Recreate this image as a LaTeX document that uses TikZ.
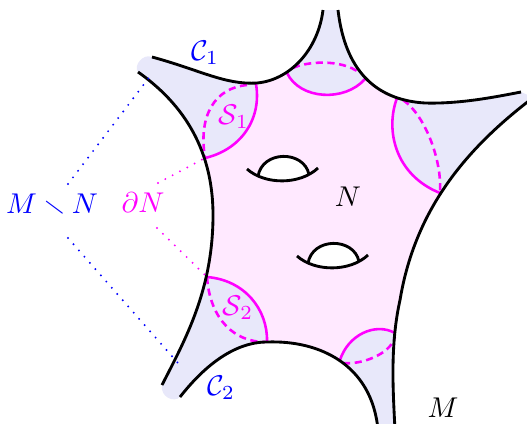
\documentclass[tikz,border=0pt]{standalone}
\usepackage{amsmath,amssymb}
\usetikzlibrary{calc}
\definecolor{SurfBlue}{RGB}{232,232,250}
\definecolor{InnerPink}{RGB}{255,233,255}
\definecolor{SphMagenta}{RGB}{255,0,255}

% outline of the surface piece (boundary curves joined by the end caps)
\newcommand{\surfoutline}{(152,57) .. controls (200,70) and (225,85) .. (257,83)
  .. controls (290,80) and (318,50) .. (323,10) -- (338,10)
  .. controls (345,70) and (375,100) .. (425,103)
  .. controls (460,104) and (495,97) .. (521,92) -- (530,96) -- (530,100)
  .. controls (465,150) and (415,210) .. (400,300)
  .. controls (390,345) and (393,390) .. (395,430) -- (378,430)
  .. controls (372,365) and (320,340) .. (267,342)
  .. controls (235,342) and (205,365) .. (180,397)
  .. controls (174,403) and (160,397) .. (162,385)
  .. controls (185,340) and (213,290) .. (213,215)
  .. controls (213,160) and (192,110) .. (138,72)
  .. controls (133,66) and (143,53) .. (152,57) -- cycle}

\begin{document}
\begin{tikzpicture}[x=0.35pt, y=-0.35pt,
    bdry/.style={black, line width=1pt},
    front/.style={SphMagenta, line width=0.9pt},
    back/.style={front, dash pattern=on 2.5pt off 1.6pt},
    bluedots/.style={blue, line width=0.75pt, line cap=round, dash pattern=on 0pt off 2.9pt},
    pinkdots/.style={bluedots, SphMagenta},
  ]
  \clip (0,0) rectangle (527,423);

  % points where the spheres meet the boundary
  \coordinate (s1a) at (256,84);
  \coordinate (s1b) at (205,158);
  \coordinate (s2a) at (207,277);
  \coordinate (s2b) at (267,342);
  \coordinate (t1) at (287,73);
  \coordinate (t2) at (365,79);
  \coordinate (r1) at (397,98);
  \coordinate (r2) at (440,193);
  \coordinate (b1) at (340,360);
  \coordinate (b2) at (395,333);

  % surface M
  \fill[SurfBlue] \surfoutline;

  % region N
  \begin{scope}
    \clip \surfoutline;
    \fill[InnerPink] (s1a) -- (270,55) -- (t1) .. controls (300,100) and (345,102) .. (t2)
      -- (385,65) -- (r1) .. controls (385,130) and (395,175) .. (r2)
      -- (490,260) -- (405,333) -- (b2) .. controls (375,322) and (348,335) .. (b1)
      -- (320,400) -- (s2b) .. controls (268,310) and (245,280) .. (s2a)
      -- (150,230) -- (s1b) .. controls (240,150) and (262,120) .. (s1a) -- cycle;
  \end{scope}

  % handles
  \foreach \hx/\hy in {0/0, 50/87}{
    \begin{scope}[shift={(\hx,\hy)}]
      \fill[white] (258,176.5) .. controls (262,150) and (304,150) .. (309,174.5)
        .. controls (292,183) and (273,183) .. cycle;
      \draw[bdry] (247,169) .. controls (265,185) and (300,185) .. (318,168);
      \draw[bdry] (258,176.5) .. controls (262,150) and (304,150) .. (309,174.5);
    \end{scope}
  }

  % spheres: hidden halves
  \draw[back] (247,85) .. controls (215,88) and (198,115) .. (s1b);
  \draw[back] (293,68) .. controls (305,62) and (340,58) .. (360,73);
  \draw[back] (403,100) .. controls (425,115) and (442,160) .. (440,192);
  \draw[back] (s2a) .. controls (210,320) and (235,342) .. (265,342);
  \draw[back] (343,363) .. controls (360,365) and (390,355) .. (395,337);
  % spheres: front halves
  \draw[front] (s1a) .. controls (262,120) and (240,150) .. (s1b);
  \draw[front] (t1) .. controls (300,100) and (345,102) .. (t2);
  \draw[front] (r1) .. controls (385,130) and (395,175) .. (r2);
  \draw[front] (s2a) .. controls (245,280) and (268,310) .. (s2b);
  \draw[front] (b1) .. controls (348,335) and (375,322) .. (b2);

  % boundary of M
  \draw[bdry] (152,57) .. controls (200,70) and (225,85) .. (257,83) .. controls (290,80) and (318,50) .. (323,10);
  \draw[bdry] (338,10) .. controls (345,70) and (375,100) .. (425,103) .. controls (460,104) and (495,97) .. (521,92);
  \draw[bdry] (530,100) .. controls (465,150) and (415,210) .. (400,300) .. controls (390,345) and (393,390) .. (395,430);
  \draw[bdry] (180,397) .. controls (205,365) and (235,342) .. (267,342) .. controls (320,340) and (372,365) .. (378,430);
  \draw[bdry] (138,72) .. controls (192,110) and (213,160) .. (213,215) .. controls (213,290) and (185,340) .. (162,385);

  % labels
  \node[blue] (c1) at (205,53) {$\mathcal{C}_1$};
  \node[blue] (c2) at (221,388) {$\mathcal{C}_2$};
  \node[SphMagenta] (s1) at (234,117) {$\mathcal{S}_1$};
  \node[SphMagenta] (s2) at (238,308) {$\mathcal{S}_2$};
  \node (n) at (348,197) {$N$};
  \node (m) at (443,408) {$M$};
  \node[blue] (mn) at (52,205) {$M\smallsetminus N$};
  \node[SphMagenta] (dn) at (143,203) {$\partial N$};

  % pointers
  \coordinate (c1end) at (151,75);
  \coordinate (c2end) at (178,363);
  \draw[bluedots] ($(mn.north)+(16,0)$) -- (c1end);
  \draw[bluedots] ($(mn.south)+(16,12)$) -- (c2end);
  \draw[pinkdots] ($(dn.north)+(15,0)$) -- (s1b);
  \draw[pinkdots] ($(dn.south)+(14,5)$) -- (s2a);
\end{tikzpicture}
\end{document}
